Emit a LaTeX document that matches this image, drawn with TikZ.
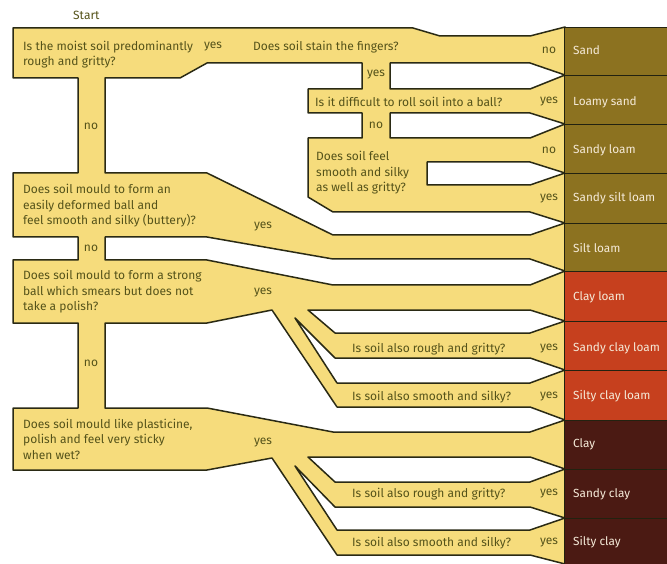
\documentclass[tikz,border=0pt]{standalone}
\usepackage{fontspec}
\setmainfont{Fira Sans}
\definecolor{yel}{HTML}{F6DC7C}
\definecolor{edge}{HTML}{2A2A14}
\definecolor{txt}{HTML}{55531A}
\definecolor{soiltxt}{HTML}{F5EAD8}
\definecolor{olive}{HTML}{8C7220}
\definecolor{clayred}{HTML}{C6401E}
\definecolor{claydark}{HTML}{4B1A13}
\tikzset{
  yshape/.style={fill=yel, draw=edge, line width=1.5pt, line join=round},
  hole/.style={fill=white, draw=edge, line width=1.5pt, line join=round},
  qtext/.style={anchor=west, inner sep=0pt, text=txt, align=left, font=\fontsize{12}{15.5}\selectfont},
  ans/.style={anchor=center, inner sep=0pt, text=txt, font=\fontsize{12}{14}\selectfont},
  soiltag/.style={anchor=west, inner sep=0pt, text=soiltxt, font=\fontsize{11.8}{14}\selectfont},
  soilbox/.style={draw=edge!80!black, line width=0.6pt},
}
\begin{document}
\begin{tikzpicture}[x=1pt,y=-1pt]
\useasboundingbox (0,0) rectangle (667,564);
% yellow flow shape
\path[yshape] (13,28) -- (413,28) -- (440,36) -- (530,36) -- (565,27) -- (565,564)
  -- (530,555) -- (337,555) -- (272,458) -- (207,470) -- (13,470) -- (13,408)
  -- (78,408) -- (78,323) -- (13,323) -- (13,260) -- (78,260) -- (78,237)
  -- (13,237) -- (13,173) -- (78,173) -- (78,78) -- (13,78) -- cycle;
% white holes
\path[hole] (105,78) -- (180,78) -- (207,63) -- (362,63) -- (362,89) -- (308,89)
  -- (308,113) -- (362,113) -- (362,138) -- (308,138) -- (308,197) -- (333,212)
  -- (530,212) -- (565,223) -- (530,235) -- (333,235) -- (207,173) -- (105,173) -- cycle;
\path[hole] (390,63) -- (530,63) -- (565,75) -- (530,89) -- (390,89) -- cycle;
\path[hole] (390,113) -- (530,113) -- (565,124) -- (530,138) -- (390,138) -- cycle;
\path[hole] (427,162) -- (530,162) -- (565,173) -- (530,185) -- (427,185) -- cycle;
\path[hole] (105,237) -- (207,237) -- (333,259) -- (530,259) -- (565,271) -- (530,285)
  -- (333,285) -- (207,260) -- (105,260) -- cycle;
\path[hole] (308,310) -- (530,310) -- (565,321) -- (530,333) -- (335,333) -- cycle;
\path[hole] (295,318) -- (335,358) -- (530,358) -- (565,370) -- (530,383) -- (337,383) -- cycle;
\path[hole] (105,323) -- (207,323) -- (272,310) -- (337,407) -- (530,407) -- (565,420)
  -- (530,432) -- (333,432) -- (207,408) -- (105,408) -- cycle;
\path[hole] (308,457) -- (530,457) -- (565,469) -- (530,482) -- (335,482) -- cycle;
\path[hole] (295,466) -- (335,507) -- (530,507) -- (565,518) -- (530,530) -- (337,530) -- cycle;
% soil column
\path[soilbox, fill=olive] (564.3,27) rectangle (668,75);
\path[soilbox, fill=olive] (564.3,75) rectangle (668,124);
\path[soilbox, fill=olive] (564.3,124) rectangle (668,173);
\path[soilbox, fill=olive] (564.3,173) rectangle (668,223);
\path[soilbox, fill=olive] (564.3,223) rectangle (668,271);
\path[soilbox, fill=clayred] (564.3,271) rectangle (668,321);
\path[soilbox, fill=clayred] (564.3,321) rectangle (668,370);
\path[soilbox, fill=clayred] (564.3,370) rectangle (668,420);
\path[soilbox, fill=claydark] (564.3,420) rectangle (668,469);
\path[soilbox, fill=claydark] (564.3,469) rectangle (668,518);
\path[soilbox, fill=claydark] (564.3,518) rectangle (668,565);
% soil names
\node[soiltag] (sand) at (573,50) {Sand};
\node[soiltag] (lsand) at (573,102) {Loamy sand};
\node[soiltag] (sloam) at (573,150) {Sandy loam};
\node[soiltag] (ssloam) at (573,198) {Sandy silt loam};
\node[soiltag] (siltl) at (573,248) {Silt loam};
\node[soiltag] (cloam) at (573,297) {Clay loam};
\node[soiltag] (scloam) at (573,348) {Sandy clay loam};
\node[soiltag] (sicloam) at (573,396) {Silty clay loam};
\node[soiltag] (clay) at (573,444) {Clay};
\node[soiltag] (sclay) at (573,494) {Sandy clay};
\node[soiltag] (siclay) at (573,542) {Silty clay};
% start
\node[ans, anchor=west] (start) at (73,15) {Start};
% questions
\node[qtext] (q1) at (23,54.5) {Is the moist soil predominantly\\rough and gritty?};
\node[qtext] (q2) at (253,47) {Does soil stain the fingers?};
\node[qtext] (q3) at (315,102) {Is it difficult to roll soil into a ball?};
\node[qtext] (q4) at (316,173) {Does soil feel\\smooth and silky\\as well as gritty?};
\node[qtext] (q5) at (23,206) {Does soil mould to form an\\easily deformed ball and\\feel smooth and silky (buttery)?};
\node[qtext] (q6) at (23,292) {Does soil mould to form a strong\\ball which smears but does not\\take a polish?};
\node[qtext] (q7) at (352,349) {Is soil also rough and gritty?};
\node[qtext] (q8) at (352,397) {Is soil also smooth and silky?};
\node[qtext] (q9) at (23,439) {Does soil mould like plasticine,\\polish and feel very sticky\\when wet?};
\node[qtext] (q10) at (352,494) {Is soil also rough and gritty?};
\node[qtext] (q11) at (352,543) {Is soil also smooth and silky?};
% answers
\node[ans] (a1) at (213,47) {yes};
\node[ans] (a2) at (549,50) {no};
\node[ans] (a3) at (376,75) {yes};
\node[ans] (a4) at (549,102) {yes};
\node[ans] (a5) at (376,125) {no};
\node[ans] (a6) at (549,150) {no};
\node[ans] (a7) at (549,199) {yes};
\node[ans] (a8) at (91,126) {no};
\node[ans] (a9) at (263,227) {yes};
\node[ans] (a10) at (91,248) {no};
\node[ans] (a11) at (263,293) {yes};
\node[ans] (a12) at (549,349) {yes};
\node[ans] (a13) at (549,397) {yes};
\node[ans] (a14) at (91,363) {no};
\node[ans] (a15) at (263,443) {yes};
\node[ans] (a16) at (549,494) {yes};
\node[ans] (a17) at (549,543) {yes};
\end{tikzpicture}
\end{document}
